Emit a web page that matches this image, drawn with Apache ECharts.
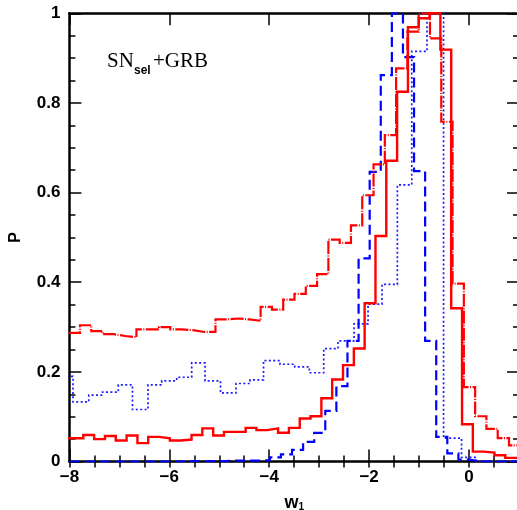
<!DOCTYPE html>
<html><head><meta charset="utf-8">
<script src="https://cdn.jsdelivr.net/npm/echarts@6/dist/echarts.min.js"></script>
<style>html,body{margin:0;padding:0;background:#fff}#c{width:517px;height:510px}</style>
</head><body><div id="c"></div>
<script>
// ---- data ----
const xTicks = [-8, -6, -4, -2, 0];
const yTicks = [0, 0.2, 0.4, 0.6, 0.8, 1];

// red solid histogram
const redSolidEdges = [-8.155, -7.938, -7.721, -7.505, -7.288, -7.072, -6.855, -6.638, -6.422, -6.205, -5.989, -5.772, -5.555, -5.339, -5.122, -4.906, -4.689, -4.472, -4.256, -4.039, -3.823, -3.606, -3.389, -3.173, -2.956, -2.740, -2.523, -2.306, -2.090, -1.873, -1.657, -1.440, -1.223, -1.007, -0.790, -0.574, -0.357, -0.140, 0.076, 0.293, 0.509, 0.726, 0.943, 1.159];
const redSolidVals = [0.052, 0.052, 0.059, 0.050, 0.057, 0.047, 0.058, 0.041, 0.055, 0.052, 0.047, 0.049, 0.059, 0.074, 0.058, 0.066, 0.066, 0.075, 0.070, 0.074, 0.064, 0.075, 0.096, 0.101, 0.141, 0.183, 0.215, 0.252, 0.353, 0.503, 0.671, 0.825, 0.969, 0.989, 1.0, 0.919, 0.342, 0.083, 0.022, 0.020, 0.014, 0.008, 0.004];

// red dash-dot histogram
const redDashDotEdges = [-8.014, -7.788, -7.562, -7.336, -7.110, -6.884, -6.658, -6.432, -6.206, -5.980, -5.754, -5.528, -5.302, -5.076, -4.850, -4.624, -4.398, -4.172, -3.946, -3.720, -3.494, -3.268, -3.042, -2.816, -2.590, -2.364, -2.138, -1.912, -1.686, -1.460, -1.234, -1.008, -0.782, -0.556, -0.330, -0.104, 0.122, 0.348, 0.574, 0.800, 1.026];
const redDashDotVals = [0.287, 0.304, 0.291, 0.284, 0.280, 0.277, 0.295, 0.295, 0.300, 0.295, 0.293, 0.289, 0.289, 0.317, 0.319, 0.317, 0.314, 0.345, 0.339, 0.361, 0.374, 0.392, 0.418, 0.495, 0.488, 0.527, 0.594, 0.663, 0.728, 0.877, 0.959, 1.0, 0.944, 0.758, 0.397, 0.166, 0.101, 0.073, 0.052, 0.036];

// blue dashed histogram
const blueDashedEdges = [-7.986, -7.764, -7.542, -7.320, -7.098, -6.876, -6.653, -6.431, -6.209, -5.987, -5.765, -5.543, -5.321, -5.099, -4.877, -4.655, -4.432, -4.210, -3.988, -3.766, -3.544, -3.322, -3.100, -2.878, -2.656, -2.434, -2.211, -1.989, -1.767, -1.545, -1.323, -1.101, -0.879, -0.657, -0.435, -0.213, 0.009, 0.231, 0.453, 0.675, 0.897, 1.120];
const blueDashedVals = [0, 0, 0, 0, 0, 0, 0, 0, 0, 0, 0.001, 0.001, 0.001, 0.001, 0.002, 0.002, 0.002, 0.003, 0.009, 0.016, 0.026, 0.044, 0.064, 0.113, 0.168, 0.269, 0.453, 0.646, 0.862, 1.0, 0.902, 0.648, 0.269, 0.055, 0.018, 0.004, 0, 0, 0, 0, 0];

// blue dotted histogram
const blueDottedEdges = [-8.232, -7.928, -7.612, -7.337, -7.021, -6.737, -6.426, -6.152, -5.852, -5.552, -5.285, -4.975, -4.665, -4.384, -4.114, -3.784, -3.489, -3.197, -2.909, -2.623, -2.302, -2.022, -1.742, -1.435, -1.147, -0.841, -0.510, -0.150, 0.146, 0.440, 0.741, 1.041];
const blueDottedVals = [0.19, 0.133, 0.148, 0.155, 0.171, 0.116, 0.171, 0.180, 0.188, 0.220, 0.180, 0.153, 0.174, 0.182, 0.225, 0.217, 0.211, 0.198, 0.252, 0.269, 0.307, 0.351, 0.395, 0.617, 0.915, 1.0, 0.052, 0.009, 0, 0, 0];

// ---- build ----
function histPoints(edges, vals) {
  const pts = [];
  for (let i = 0; i < vals.length; i++) {
    pts.push([edges[i], vals[i]]);
    pts.push([edges[i + 1], vals[i]]);
  }
  return pts;
}
const fmtX = v => (xTicks.indexOf(v) >= 0 ? (v < 0 ? '\u2212' + Math.abs(v) : String(v)) : '');
const fmtY = v => (yTicks.indexOf(Math.round(v * 100) / 100) >= 0 ? String(Math.round(v * 100) / 100) : '');

const lblFont = { color: '#000', fontFamily: 'Liberation Sans', fontWeight: 'bold', fontSize: 17 };
const axLine = { show: true, onZero: false, lineStyle: { color: '#000', width: 2.5 } };
const tickStyle = { color: '#000', width: 1.5 };

function xAx(pos, major) {
  return {
    type: 'value', gridIndex: 0, position: pos, min: -8, max: 1, interval: major ? 2 : 0.5,
    axisLine: major ? axLine : { show: false },
    axisTick: { show: true, inside: true, length: major ? 12 : 6, lineStyle: tickStyle },
    axisLabel: (major && pos === 'bottom') ? Object.assign({ show: true, margin: 7, formatter: fmtX, showMaxLabel: false }, lblFont) : { show: false },
    splitLine: { show: false }, minorTick: { show: false }
  };
}
const xAxes = [xAx('bottom', true), xAx('bottom', false), xAx('top', true), xAx('top', false)];
xAxes[0].name = '{w|w}{s|1}';
xAxes[0].nameLocation = 'middle';
xAxes[0].nameGap = 33;
xAxes[0].nameTextStyle = { rich: {
  w: { fontFamily: 'Liberation Sans', fontWeight: 'bold', fontSize: 18, color: '#000', verticalAlign: 'bottom', lineHeight: 18 },
  s: { fontFamily: 'Liberation Sans', fontWeight: 'bold', fontSize: 10, color: '#000', verticalAlign: 'bottom', lineHeight: 10 }
} };

function yAx(pos) {
  return {
    type: 'value', gridIndex: 0, position: pos, min: 0, max: 1, interval: 0.2,
    axisLine: axLine,
    axisTick: { show: true, inside: true, length: 12, lineStyle: tickStyle },
    minorTick: { show: true, splitNumber: 4, length: 6, lineStyle: tickStyle },
    axisLabel: pos === 'left' ? Object.assign({ show: true, margin: 9, formatter: fmtY }, lblFont) : { show: false },
    splitLine: { show: false }, minorSplitLine: { show: false }
  };
}
const yAxes = [yAx('left'), yAx('right')];
yAxes[0].name = 'P';
yAxes[0].nameLocation = 'middle';
yAxes[0].nameGap = 46;
yAxes[0].nameRotate = 90;
yAxes[0].nameTextStyle = { fontFamily: 'Liberation Sans', fontWeight: 'bold', fontSize: 16, color: '#000' };

function ser(name, edges, vals, color, width, type) {
  return {
    name: name, type: 'line', xAxisIndex: 0, yAxisIndex: 0, data: histPoints(edges, vals),
    symbol: 'none', clip: true, silent: true,
    lineStyle: { color: color, width: width, type: type, cap: 'butt', join: 'miter' }
  };
}

const chart = echarts.init(document.getElementById('c'), null, { renderer: 'canvas' });
chart.setOption({
  animation: false,
  backgroundColor: '#fff',
  grid: { left: 69.4, top: 13.3, width: 449.6, height: 448.2, containLabel: false, outerBoundsMode: 'none' },
  xAxis: xAxes,
  yAxis: yAxes,
  series: [
    ser('dotted', blueDottedEdges, blueDottedVals, '#1a1aff', 1.7, [2, 2.4]),
    ser('dashed', blueDashedEdges, blueDashedVals, '#0000ff', 2.2, [10, 5]),
    ser('dashdot', redDashDotEdges, redDashDotVals, '#ff0000', 2.2, [13, 1.5, 1, 1.5]),
    ser('solid', redSolidEdges, redSolidVals, '#ff0000', 2.4, 'solid')
  ],
  graphic: [
    { type: 'text', x: 107, y: 61.5, style: { text: 'SN', fontFamily: 'Liberation Serif', fontSize: 21, fill: '#000', verticalAlign: 'middle' } },
    { type: 'text', x: 134, y: 70.5, style: { text: 'sel', fontFamily: 'Liberation Sans', fontWeight: 'bold', fontSize: 12, fill: '#000', verticalAlign: 'middle' } },
    { type: 'text', x: 153, y: 61.5, style: { text: '+GRB', fontFamily: 'Liberation Serif', fontSize: 21, fill: '#000', verticalAlign: 'middle' } }
  ]
});
</script>
</body></html>
